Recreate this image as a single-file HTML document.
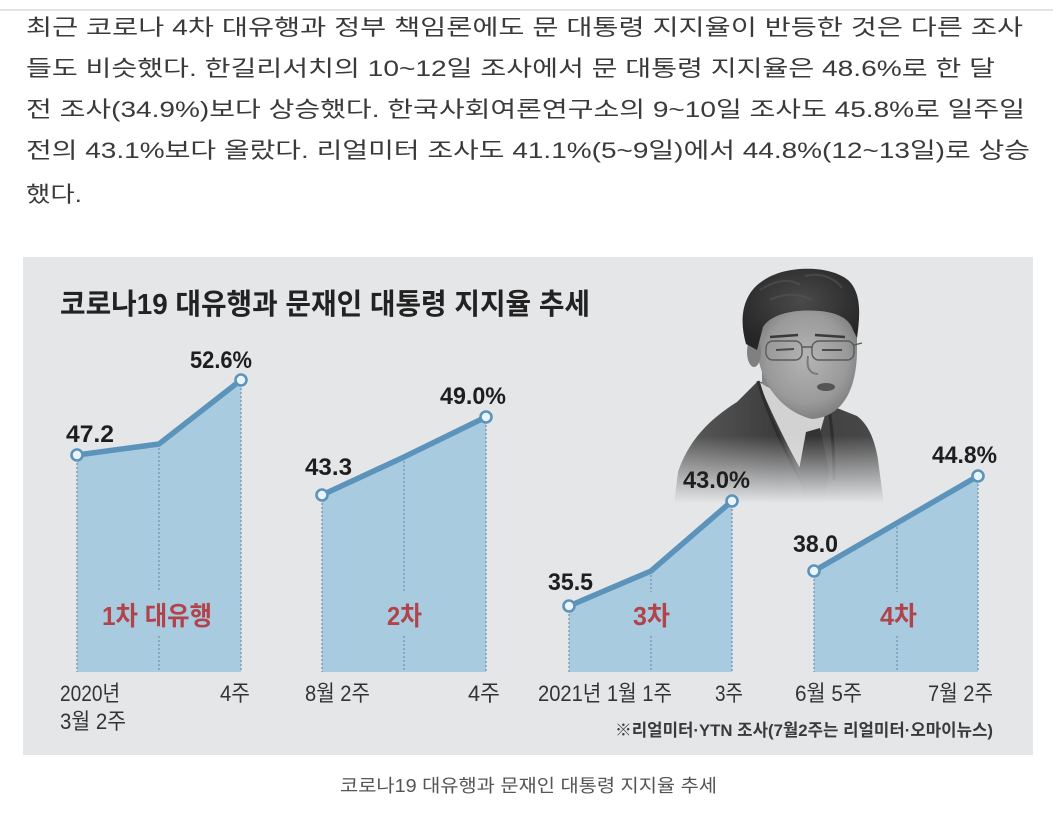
<!DOCTYPE html>
<html>
<head>
<meta charset="utf-8">
<style>
html,body{margin:0;padding:0;background:#fff;width:1053px;height:828px;overflow:hidden}
svg{display:block}
</style>
</head>
<body>
<svg width="1053" height="828" viewBox="0 0 1053 828" xmlns="http://www.w3.org/2000/svg">
<defs>
  <linearGradient id="fg" gradientUnits="userSpaceOnUse" x1="0" y1="436" x2="0" y2="503">
    <stop offset="0" stop-color="#fff"/>
    <stop offset="1" stop-color="#000"/>
  </linearGradient>
  <mask id="pm"><rect x="660" y="255" width="240" height="260" fill="url(#fg)"/></mask>
  <radialGradient id="face" cx="0.5" cy="0.45" r="0.62">
    <stop offset="0" stop-color="#b4b4b4"/>
    <stop offset="0.65" stop-color="#9a9a9a"/>
    <stop offset="1" stop-color="#747474"/>
  </radialGradient>
  <linearGradient id="suit" x1="0" y1="0" x2="1" y2="0">
    <stop offset="0" stop-color="#5c5c5c"/>
    <stop offset="0.5" stop-color="#3c3c3c"/>
    <stop offset="1" stop-color="#4a4a4a"/>
  </linearGradient>
  <radialGradient id="hair" cx="0.5" cy="0.4" r="0.6">
    <stop offset="0" stop-color="#4a4a4a"/>
    <stop offset="1" stop-color="#262626"/>
  </radialGradient>
</defs>

<rect width="1053" height="828" fill="#fff"/>
<rect x="0" y="9" width="1053" height="2" fill="#e4e4e4"/>

<!-- body text -->
<g font-family="'Liberation Sans','Noto Sans CJK KR',sans-serif" font-size="22" fill="#3a3a3a">
  <text x="26" y="35" textLength="997" lengthAdjust="spacingAndGlyphs">최근 코로나 4차 대유행과 정부 책임론에도 문 대통령 지지율이 반등한 것은 다른 조사</text>
  <text x="26" y="76" textLength="969" lengthAdjust="spacingAndGlyphs">들도 비슷했다. 한길리서치의 10~12일 조사에서 문 대통령 지지율은 48.6%로 한 달</text>
  <text x="26" y="117" textLength="999" lengthAdjust="spacingAndGlyphs">전 조사(34.9%)보다 상승했다. 한국사회여론연구소의 9~10일 조사도 45.8%로 일주일</text>
  <text x="26" y="158" textLength="1004" lengthAdjust="spacingAndGlyphs">전의 43.1%보다 올랐다. 리얼미터 조사도 41.1%(5~9일)에서 44.8%(12~13일)로 상승</text>
  <text x="26" y="202" textLength="56" lengthAdjust="spacingAndGlyphs">했다.</text>
</g>

<!-- chart box -->
<rect x="23" y="257" width="1010" height="498" fill="#e5e6e8"/>

<!-- title -->
<text x="60" y="314" font-family="'Liberation Sans','Noto Sans CJK KR',sans-serif" font-size="29" font-weight="bold" fill="#222" textLength="530" lengthAdjust="spacingAndGlyphs">코로나19 대유행과 문재인 대통령 지지율 추세</text>

<!-- photo -->
<g mask="url(#pm)">
  <path d="M674,505 L678,472 C688,442 708,420 737,402 L758,381 L790,392 L827,404 L857,416 C868,424 875,440 878,460 L884,505 Z" fill="url(#suit)"/>
  <path d="M762,372 C780,392 805,402 828,398 L828,410 L800,410 L762,388 Z" fill="#858585"/>
  <path d="M758,381 C770,410 790,452 808,482 L818,440 L828,404 L826,396 C805,402 776,394 758,381 Z" fill="#d2d2d2"/>
  <path d="M806,432 L820,428 L829,470 L824,505 L804,505 L799,470 Z" fill="#333"/>
  <path d="M758,381 C768,415 786,455 806,490" stroke="#2e2e2e" stroke-width="3" fill="none"/>
  <path d="M828,404 C832,425 834,450 834,480" stroke="#2e2e2e" stroke-width="3" fill="none"/>
</g>
<path d="M757,330 C753,372 775,410 812,419 C842,417 857,390 857,350 L857,318 C840,304 780,304 757,325 Z" fill="url(#face)"/>
<ellipse cx="754" cy="352" rx="7" ry="15" fill="#808080"/>
<path d="M746,344 C738,316 744,292 764,280 C784,266 828,264 848,280 C862,293 860,316 857,338 L853,330 C850,320 840,313 820,311 C796,309 772,313 763,327 L757,350 Z" fill="url(#hair)"/>
<path d="M760,290 C775,280 790,278 800,285 M805,276 C820,272 835,278 842,288 M770,300 C785,292 800,294 812,300" stroke="#555" stroke-width="2" fill="none" opacity="0.6"/>
<path d="M770,337 L798,335 M815,335 L845,337" stroke="#3a3a3a" stroke-width="2.5"/>
<rect x="766" y="341" width="36" height="19" rx="7" fill="none" stroke="#5a5a5a" stroke-width="1.4"/>
<rect x="812" y="341" width="42" height="19" rx="7" fill="none" stroke="#5a5a5a" stroke-width="1.4"/>
<path d="M802,347 L812,347 M854,345 L862,343" stroke="#5a5a5a" stroke-width="1.4"/>
<path d="M776,350 L794,349 M822,350 L842,350" stroke="#4a4a4a" stroke-width="2"/>
<path d="M808,356 C806,368 810,374 818,374" stroke="#7a7a7a" stroke-width="2" fill="none"/>
<ellipse cx="826" cy="387" rx="9" ry="4" fill="#555"/>

<!-- panels -->
<g>
  <polygon points="77,455 159,444 241,380 241,672 77,672" fill="#a9cbe0"/>
  <polygon points="322,495 404,457 486,417 486,672 322,672" fill="#a9cbe0"/>
  <polygon points="569,606 651,571 732,501 732,672 569,672" fill="#a9cbe0"/>
  <polygon points="814,571 897,523 978,476 978,672 814,672" fill="#a9cbe0"/>

  <g stroke="#6f93b0" stroke-width="1.2" stroke-dasharray="2 2" fill="none">
    <path d="M77,455 V672 M241,380 V672 M159,444 V592 M159,636 V672"/>
    <path d="M322,495 V672 M486,417 V672 M404,457 V592 M404,636 V672"/>
    <path d="M569,606 V672 M732,501 V672 M651,571 V592 M651,636 V672"/>
    <path d="M814,571 V672 M978,476 V672 M897,523 V592 M897,636 V672"/>
  </g>

  <g stroke="#5b93bb" stroke-width="5.5" fill="none" stroke-linejoin="round" stroke-linecap="round">
    <polyline points="77,455 159,444 241,380"/>
    <polyline points="322,495 404,457 486,417"/>
    <polyline points="569,606 651,571 732,501"/>
    <polyline points="814,571 897,523 978,476"/>
  </g>
  <g fill="#eaf5fb" stroke="#5b93bb" stroke-width="2.6">
    <circle cx="77" cy="455" r="5.5"/><circle cx="241" cy="380" r="5.5"/>
    <circle cx="322" cy="495" r="5.5"/><circle cx="486" cy="417" r="5.5"/>
    <circle cx="569" cy="606" r="5.5"/><circle cx="732" cy="501" r="5.5"/>
    <circle cx="814" cy="571" r="5.5"/><circle cx="978" cy="476" r="5.5"/>
  </g>
</g>

<!-- value labels -->
<g font-family="'Liberation Sans Narrow','Liberation Sans',sans-serif" font-size="24" font-weight="bold" fill="#1e1e1e">
  <text x="66" y="442" textLength="48" lengthAdjust="spacingAndGlyphs">47.2</text>
  <text x="190" y="368" textLength="62" lengthAdjust="spacingAndGlyphs">52.6%</text>
  <text x="305" y="475" textLength="47" lengthAdjust="spacingAndGlyphs">43.3</text>
  <text x="440" y="404" textLength="66" lengthAdjust="spacingAndGlyphs">49.0%</text>
  <text x="548" y="590" textLength="45" lengthAdjust="spacingAndGlyphs">35.5</text>
  <text x="683" y="488" textLength="67" lengthAdjust="spacingAndGlyphs">43.0%</text>
  <text x="793" y="552" textLength="45" lengthAdjust="spacingAndGlyphs">38.0</text>
  <text x="932" y="463" textLength="65" lengthAdjust="spacingAndGlyphs">44.8%</text>
</g>

<!-- wave labels -->
<g font-family="'Liberation Sans','Noto Sans CJK KR',sans-serif" font-size="26" font-weight="bold" fill="#b3434a">
  <text x="102" y="625" textLength="110" lengthAdjust="spacingAndGlyphs">1차 대유행</text>
  <text x="387" y="625" textLength="35" lengthAdjust="spacingAndGlyphs">2차</text>
  <text x="633" y="625" textLength="37" lengthAdjust="spacingAndGlyphs">3차</text>
  <text x="880" y="625" textLength="37" lengthAdjust="spacingAndGlyphs">4차</text>
</g>

<!-- x labels -->
<g font-family="'Liberation Sans','Noto Sans CJK KR',sans-serif" font-size="22" fill="#333">
  <text x="60" y="701" textLength="60" lengthAdjust="spacingAndGlyphs">2020년</text>
  <text x="60" y="729" textLength="66" lengthAdjust="spacingAndGlyphs">3월 2주</text>
  <text x="220" y="701" textLength="30" lengthAdjust="spacingAndGlyphs">4주</text>
  <text x="305" y="701" textLength="65" lengthAdjust="spacingAndGlyphs">8월 2주</text>
  <text x="468" y="701" textLength="32" lengthAdjust="spacingAndGlyphs">4주</text>
  <text x="538" y="701" textLength="134" lengthAdjust="spacingAndGlyphs">2021년 1월 1주</text>
  <text x="715" y="701" textLength="28" lengthAdjust="spacingAndGlyphs">3주</text>
  <text x="795" y="701" textLength="67" lengthAdjust="spacingAndGlyphs">6월 5주</text>
  <text x="928" y="701" textLength="65" lengthAdjust="spacingAndGlyphs">7월 2주</text>
</g>

<text x="615" y="736" font-family="'Liberation Sans','Noto Sans CJK KR',sans-serif" font-size="17" font-weight="bold" fill="#3a3a3a" textLength="378" lengthAdjust="spacingAndGlyphs">※리얼미터·YTN 조사(7월2주는 리얼미터·오마이뉴스)</text>

<!-- caption -->
<text x="340" y="792" font-family="'Liberation Sans','Noto Sans CJK KR',sans-serif" font-size="18" fill="#555" textLength="377" lengthAdjust="spacingAndGlyphs">코로나19 대유행과 문재인 대통령 지지율 추세</text>
</svg>
</body>
</html>
